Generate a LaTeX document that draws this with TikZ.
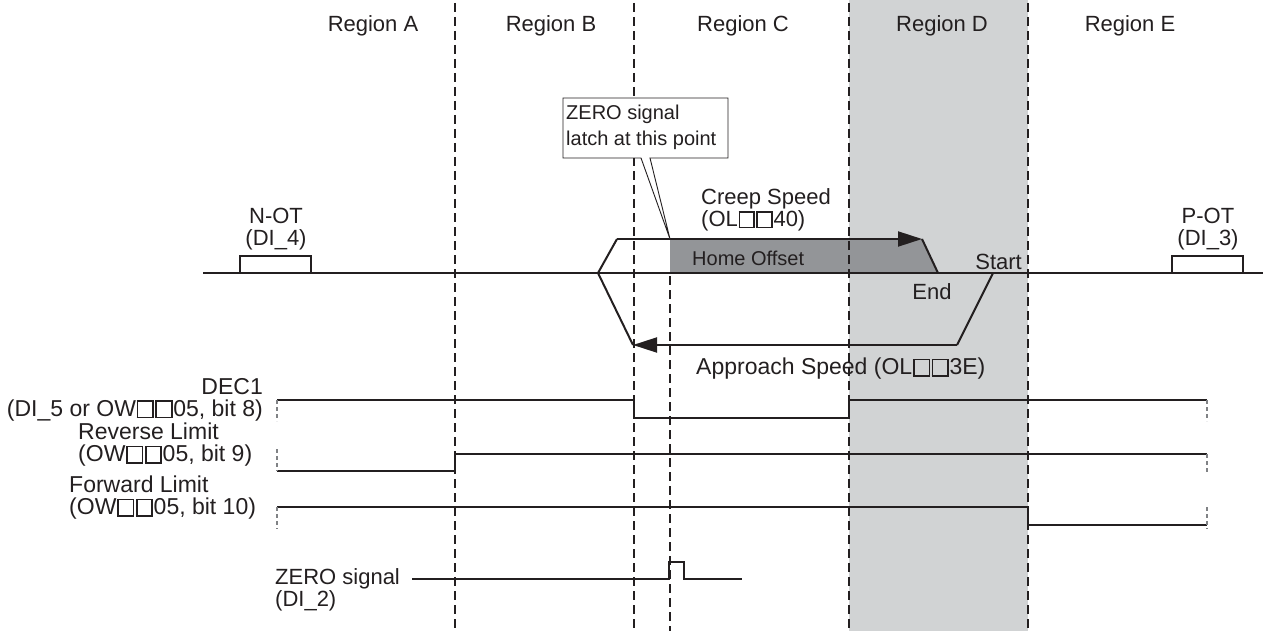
\documentclass[tikz,border=0pt]{standalone}
\usepackage{fontspec}
\setmainfont{Liberation Sans}
\usetikzlibrary{arrows.meta}
\definecolor{ink}{HTML}{231F20}
\definecolor{regiongray}{HTML}{D1D3D4}
\definecolor{offsetgray}{HTML}{939598}
\definecolor{stubgray}{HTML}{808285}
\newcommand\bx{{\setlength\fboxsep{0pt}\setlength\fboxrule{0.075em}\kern0.03em\fbox{\rule{0pt}{0.64em}\rule{0.6em}{0pt}}\kern0.03em}}
\begin{document}
\begin{tikzpicture}[x=1pt,y=-1pt,
  lbl/.style={font=\fontsize{22}{22}\selectfont, text=ink, inner sep=0pt},
  blbl/.style={font=\fontsize{23}{22}\selectfont, text=ink, inner sep=0pt},
  rlbl/.style={font=\fontsize{22}{26}\selectfont, text=ink, inner sep=0pt},
  clbl/.style={font=\fontsize{20}{26}\selectfont, text=ink, inner sep=0pt},
  sig/.style={draw=ink, line width=2pt, line join=miter},
  divider/.style={draw=ink, line width=1.8pt, dash pattern=on 9pt off 5pt},
  stub/.style={draw=stubgray, line width=1.2pt, dash pattern=on 4pt off 3pt},
  tip/.style={-{Triangle[length=24pt,width=15pt]}},
  callout/.style={draw=ink, line width=0.9pt, fill=white}]
\useasboundingbox (0,0) rectangle (1276,631);
% shaded region D
\fill[regiongray] (849,0) rectangle (1028,631);
% home offset area
\fill[offsetgray] (670,239) -- (922,239) -- (938,273) -- (670,273) -- cycle;
% region dividers
\coordinate (ab1) at (455,3);   \coordinate (ab2) at (455,631);
\coordinate (bc1) at (634,3);   \coordinate (bc2) at (634,631);
\coordinate (cd1) at (849,3);   \coordinate (cd2) at (849,631);
\coordinate (de1) at (1028,3);  \coordinate (de2) at (1028,631);
\coordinate (lt1) at (670,276); \coordinate (lt2) at (670,631);
\draw[divider] (ab1) -- (ab2);
\draw[divider] (bc1) -- (bc2);
\draw[divider] (cd1) -- (cd2);
\draw[divider] (de1) -- (de2);
\draw[divider] (lt1) -- (lt2);
% region labels
\node[rlbl] (ra) at (373,26) {Region A};
\node[rlbl] (rb) at (551,26) {Region B};
\node[rlbl] (rc) at (743,26) {Region C};
\node[rlbl] (rd) at (942,26) {Region D};
\node[rlbl] (re) at (1130,26) {Region E};
% axis and limit switches
\coordinate (axL) at (203,273); \coordinate (axR) at (1263,273);
\draw[sig] (axL) -- (axR);
\draw[sig] (240,273) rectangle (311,256);
\draw[sig] (1172,273) rectangle (1243,256);
\node[lbl,align=center] (not) at (276,229) {N-OT\\(DI\_4)};
\node[lbl,align=center] (pot) at (1208,229) {P-OT\\(DI\_3)};
% speed profile
\coordinate (p0) at (598,273);
\coordinate (p1) at (617,239);
\coordinate (p2) at (922,239);
\coordinate (p3) at (938,273);
\coordinate (q1) at (633,345);
\coordinate (q2) at (957,345);
\coordinate (q3) at (993,273);
\draw[sig] (p0) -- (p1);
\draw[sig,tip] (p1) -- (p2);
\draw[sig] (p2) -- (p3);
\draw[sig] (p0) -- (q1);
\draw[sig,tip] (q2) -- (q1);
\draw[sig] (q2) -- (q3);
\node[lbl,anchor=west,align=left] (creep) at (701,210) {Creep Speed\\(OL\bx\bx40)};
\node[clbl,anchor=west] (home) at (692,258) {Home Offset};
\node[lbl,anchor=east] (start) at (1022,262) {Start};
\node[lbl] (end) at (932,292) {End};
\node[blbl,anchor=west] (appr) at (696,369) {Approach Speed (OL\bx\bx3E)};
% callout
\coordinate (latch) at (670,239);
\path[callout] (563,98) -- (728,98) -- (728,158) -- (650,158) -- (latch) -- (641,158) -- (563,158) -- cycle;
\node[clbl,anchor=west,align=left] (call) at (566,127) {ZERO signal\\latch at this point};
% signal labels
\node[blbl,anchor=east,align=right] (dec) at (263,400) {DEC1\\(DI\_5 or OW\bx\bx05, bit 8)};
\node[blbl,anchor=west,align=left] (rev) at (78,445) {Reverse Limit\\(OW\bx\bx05, bit 9)};
\node[blbl,anchor=west,align=left] (fwd) at (69,498) {Forward Limit\\(OW\bx\bx05, bit 10)};
\node[lbl,anchor=west,align=left] (zero) at (275,590) {ZERO signal\\(DI\_2)};
% DEC1
\draw[sig] (277,400) -- (634,400) -- (634,418) -- (849,418) -- (849,400) -- (1207,400);
\draw[stub] (277,400) -- (277,421);
\draw[stub] (1207,400) -- (1207,421);
% Reverse limit
\draw[sig] (277,471) -- (455,471) -- (455,454) -- (1207,454);
\draw[stub] (277,449) -- (277,471);
\draw[stub] (1207,454) -- (1207,473);
% Forward limit
\draw[sig] (277,507) -- (1028,507) -- (1028,525) -- (1207,525);
\draw[stub] (277,507) -- (277,529);
\draw[stub] (1207,507) -- (1207,529);
% ZERO signal
\coordinate (z0) at (412,579);
\draw[sig] (z0) -- (669,579) -- (669,562) -- (684,562) -- (684,579) -- (742,579);
\end{tikzpicture}
\end{document}
